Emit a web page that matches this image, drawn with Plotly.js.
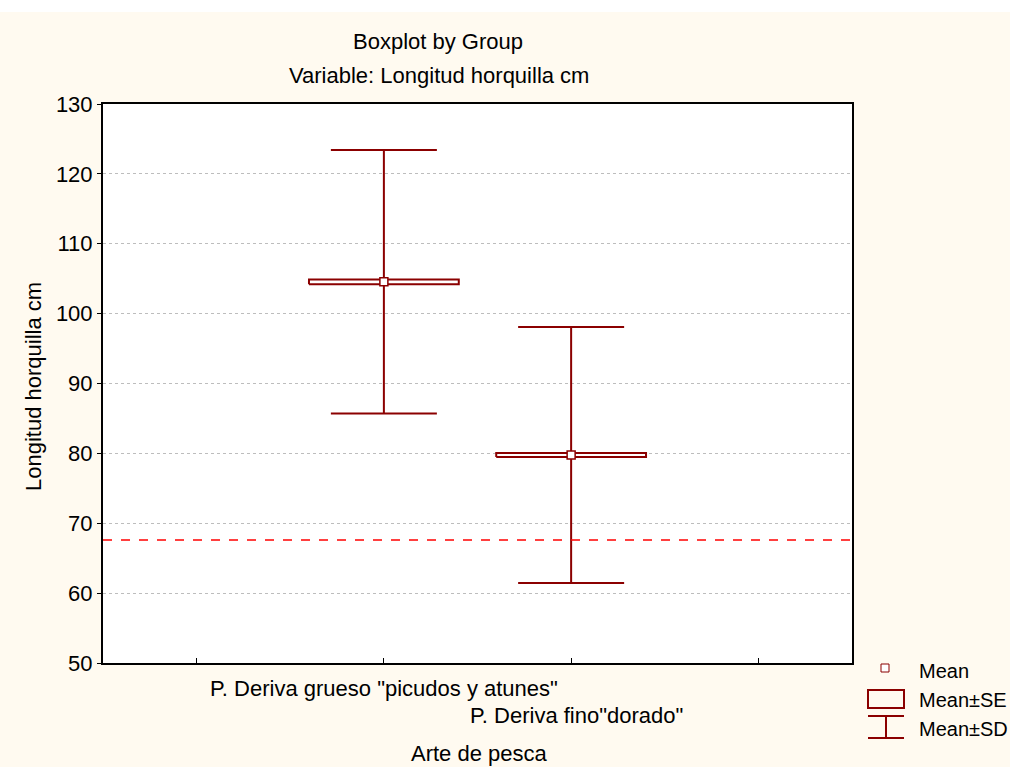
<!DOCTYPE html>
<html>
<head>
<meta charset="utf-8">
<script src="https://cdn.plot.ly/plotly-3.0.1.min.js"></script>
<style>
html,body{margin:0;padding:0;background:#ffffff;}
#chart{width:1010px;height:755px;margin-top:12px;}
</style>
</head>
<body>
<div id="chart"></div>
<script>
// ---- data ----
const groups = ['P. Deriva grueso "picudos y atunes"', 'P. Deriva fino"dorado"'];
const positions = [1.5, 2.5];
const means = [104.55, 79.77];
const se = [0.35, 0.3];
const sd = [18.85, 18.32];
const refLine = 67.6;
const yTicks = [50, 60, 70, 80, 90, 100, 110, 120, 130];
const legendLabels = ['Mean', 'Mean\u00b1SE', 'Mean\u00b1SD'];

const RED = '#8b0000';
const FONT = 'Liberation Sans, Arial, sans-serif';
const FS = 22;
const boxHalf = 0.4;

// plot-area geometry (page px) used for paper-coordinate helpers
const L = 103, R = 852, T = 104, B = 663;
const px = v => (v - L) / (R - L);
const py = v => (B - v) / (B - T);

// SE box polygons built from data
const boxX = [], boxY = [];
positions.forEach((p, i) => {
  const lo = means[i] - se[i], hi = means[i] + se[i];
  boxX.push(p - boxHalf, p + boxHalf, p + boxHalf, p - boxHalf, p - boxHalf, null);
  boxY.push(lo, lo, hi, hi, lo, null);
});

const traces = [
  { // SD whiskers
    type: 'scatter', mode: 'markers', x: positions, y: means,
    marker: {size: 1, color: 'rgba(0,0,0,0)'},
    error_y: {type: 'data', array: sd, symmetric: true, color: RED, thickness: 2, width: 53},
    hoverinfo: 'skip', showlegend: false
  },
  { // SE boxes
    type: 'scatter', mode: 'lines', x: boxX, y: boxY, fill: 'toself',
    fillcolor: '#ffffff', line: {color: RED, width: 2},
    hoverinfo: 'skip', showlegend: false
  },
  { // means
    type: 'scatter', mode: 'markers', x: positions, y: means,
    marker: {symbol: 'square', size: 8, color: '#ffffff', line: {color: RED, width: 1.5}},
    showlegend: false
  }
];

const shapes = [
  {type: 'line', xref: 'paper', yref: 'y', x0: 0, x1: 1, y0: refLine, y1: refLine,
   line: {color: '#ff0000', width: 1.5, dash: 'dash'}, layer: 'above'},
  // legend icons
  {type: 'rect', xref: 'paper', yref: 'paper', x0: px(881), x1: px(889), y0: py(672), y1: py(664),
   line: {color: RED, width: 1}, fillcolor: '#ffffff'},
  {type: 'rect', xref: 'paper', yref: 'paper', x0: px(868), x1: px(904), y0: py(708), y1: py(690),
   line: {color: RED, width: 2}, fillcolor: 'rgba(0,0,0,0)'},
  {type: 'line', xref: 'paper', yref: 'paper', x0: px(868), x1: px(904), y0: py(716), y1: py(716),
   line: {color: RED, width: 2}},
  {type: 'line', xref: 'paper', yref: 'paper', x0: px(886), x1: px(886), y0: py(716), y1: py(738),
   line: {color: RED, width: 2}},
  {type: 'line', xref: 'paper', yref: 'paper', x0: px(868), x1: px(904), y0: py(738), y1: py(738),
   line: {color: RED, width: 2}}
];

const txt = (text, x, y, xanchor, size, extra) => Object.assign({
  text: text, x: x, y: y, xref: 'paper', yref: 'paper', xanchor: xanchor, yanchor: 'middle',
  showarrow: false, font: {family: FONT, size: size, color: '#000000'}
}, extra || {});

const annotations = [
  txt('Boxplot by Group', px(438), py(42), 'center', FS),
  txt('Variable: Longitud horquilla cm', px(439), py(75), 'center', FS),
  txt('Arte de pesca', px(479), py(753), 'center', FS),
  txt('Longitud horquilla cm', px(33), py(387), 'center', FS, {textangle: -90}),
  {text: groups[0], x: positions[0], y: py(688), xref: 'x', yref: 'paper', xanchor: 'center', yanchor: 'middle',
   showarrow: false, font: {family: FONT, size: FS, color: '#000000'}},
  {text: groups[1], x: positions[1] + 0.03, y: py(715), xref: 'x', yref: 'paper', xanchor: 'center', yanchor: 'middle',
   showarrow: false, font: {family: FONT, size: FS, color: '#000000'}},
  txt(legendLabels[0], px(917), py(671), 'left', 20),
  txt(legendLabels[1], px(917), py(700), 'left', 20),
  txt(legendLabels[2], px(917), py(729), 'left', 20)
];

const layout = {
  width: 1010, height: 755,
  margin: {l: L, r: 1010 - R, t: T - 12, b: 755 - (B - 12)},
  paper_bgcolor: '#fffaf0', plot_bgcolor: '#ffffff',
  showlegend: false,
  xaxis: {
    range: [0, 4], tickvals: [0.5, 1.5, 2.5, 3.5], showticklabels: false,
    ticks: 'inside', ticklen: 5, tickcolor: '#000000', tickwidth: 1,
    showgrid: false, zeroline: false,
    showline: true, mirror: true, linecolor: '#000000', linewidth: 2
  },
  yaxis: {
    range: [50, 130], tickvals: yTicks, ticktext: yTicks.map(String),
    ticks: 'outside', ticklen: 4, tickcolor: '#000000', tickwidth: 1,
    tickfont: {family: FONT, size: FS, color: '#000000'},
    showgrid: true, gridcolor: '#bdbdbd', gridwidth: 1, griddash: 'dot',
    zeroline: false,
    showline: true, mirror: true, linecolor: '#000000', linewidth: 2
  },
  shapes: shapes,
  annotations: annotations
};

Plotly.newPlot('chart', traces, layout, {displayModeBar: false, staticPlot: true});
</script>
</body>
</html>
